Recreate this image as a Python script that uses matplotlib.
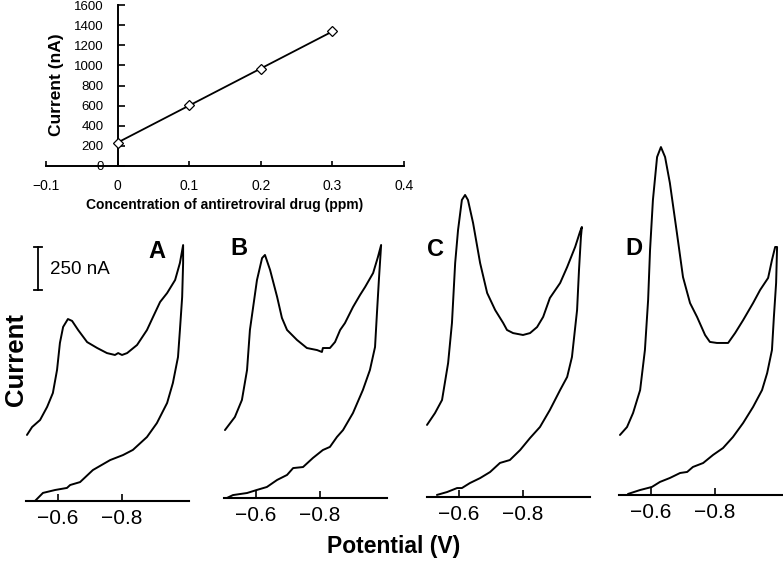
import numpy as np
import matplotlib
matplotlib.use("Agg")
import matplotlib.pyplot as plt

plt.rcParams['font.family'] = ['Liberation Sans', 'DejaVu Sans']

# calibration inset
conc = [0.0, 0.1, 0.2, 0.3]
peak_current = [230, 610, 960, 1340]
conc_ticks = [-0.1, 0, 0.1, 0.2, 0.3, 0.4]
conc_tick_labels = ["\u22120.1", "0", "0.1", "0.2", "0.3", "0.4"]
current_ticks = [0, 200, 400, 600, 800, 1000, 1200, 1400, 1600]

# voltammograms (potential in V, current in nA), forward scan then reverse scan
panel_names = ["A", "B", "C", "D"]
pot_a = [-0.528, -0.553, -0.591, -0.628, -0.638, -0.669, -0.709, -0.763, -0.803, -0.834,
         -0.878, -0.909, -0.941, -0.959, -0.975, -0.981, -0.988, -0.991, -0.991,
         -0.981, -0.966, -0.941, -0.919, -0.897, -0.878, -0.847, -0.816, -0.800, -0.788,
         -0.778, -0.753, -0.722, -0.691, -0.663, -0.644, -0.631, -0.616, -0.606, -0.597,
         -0.584, -0.566, -0.544, -0.519, -0.503]
cur_a = [0, 47, 64, 76, 93, 110, 180, 238, 267, 297, 372, 453, 570, 686, 837, 994, 1186, 1384, 1488,
         1384, 1285, 1209, 1157, 1070, 994, 907, 860, 849, 860, 849, 860, 890, 924, 994, 1047,
         1058, 1012, 919, 762, 628, 547, 471, 430, 384]
pot_b = [-0.509, -0.528, -0.572, -0.603, -0.634, -0.666, -0.697, -0.716, -0.747, -0.778,
         -0.809, -0.831, -0.853, -0.872, -0.903, -0.934, -0.956, -0.972, -0.978, -0.984, -0.991,
         -0.981, -0.966, -0.941, -0.925, -0.903, -0.878, -0.863, -0.847, -0.831, -0.809,
         -0.806, -0.791, -0.759, -0.728, -0.697, -0.681, -0.666, -0.644, -0.628, -0.619,
         -0.603, -0.581, -0.572, -0.556, -0.534, -0.503]
cur_b = [0, 17, 29, 47, 64, 105, 134, 174, 180, 233, 279, 297, 355, 395, 494, 628, 744, 878,
         1076, 1267, 1471,
         1401, 1308, 1227, 1180, 1110, 1017, 977, 907, 872, 872, 849, 860, 872, 919, 977, 1047,
         1169, 1326, 1413, 1395, 1267, 977, 744, 570, 471, 395]
pot_c = [-0.531, -0.563, -0.594, -0.609, -0.634, -0.666, -0.697, -0.728, -0.759, -0.791,
         -0.822, -0.853, -0.884, -0.916, -0.938, -0.953, -0.969, -0.975, -0.981, -0.984,
         -0.978, -0.963, -0.938, -0.916, -0.884, -0.863, -0.844, -0.822, -0.800, -0.769,
         -0.750, -0.738, -0.713, -0.688, -0.666, -0.644, -0.628, -0.619, -0.609, -0.597,
         -0.588, -0.578, -0.566, -0.547, -0.525, -0.500]
cur_c = [12, 29, 52, 52, 81, 110, 145, 198, 215, 273, 343, 407, 506, 622, 698, 814, 1087, 1320,
         1512, 1570,
         1541, 1454, 1337, 1244, 1157, 1047, 988, 953, 942, 953, 971, 1012, 1087, 1186, 1360,
         1593, 1727, 1756, 1727, 1552, 1360, 1012, 779, 564, 488, 419]
pot_d = [-0.528, -0.566, -0.591, -0.603, -0.628, -0.659, -0.691, -0.713, -0.731, -0.763,
         -0.794, -0.825, -0.856, -0.888, -0.919, -0.947, -0.963, -0.978, -0.984, -0.991, -0.994,
         -0.988, -0.978, -0.966, -0.941, -0.919, -0.888, -0.863, -0.841, -0.806, -0.784,
         -0.769, -0.744, -0.722, -0.700, -0.681, -0.659, -0.644, -0.631, -0.619, -0.606,
         -0.597, -0.591, -0.581, -0.566, -0.544, -0.525, -0.503]
cur_d = [6, 29, 41, 47, 76, 99, 128, 134, 163, 186, 233, 273, 337, 419, 512, 610, 709, 843,
         1035, 1233, 1442,
         1442, 1366, 1262, 1192, 1116, 1017, 942, 884, 884, 890, 930, 1035, 1116, 1267, 1523,
         1814, 1965, 2023, 1965, 1715, 1424, 1134, 843, 610, 477, 395, 349]
potentials = [pot_a, pot_b, pot_c, pot_d]
currents = [cur_a, cur_b, cur_c, cur_d]
scale_bar_nA = 250

W, H = 783, 561
fig = plt.figure(figsize=(W / 100, H / 100), dpi=100)


def px(x, y, w=0, h=0):
    # pixel box (left, top) -> figure fraction rect
    return [x / W, 1 - (y + h) / H, w / W, h / H]


# ---- inset calibration plot
ax = fig.add_axes(px(46, 5, 358, 161))
ax.patch.set_visible(False)
fit = np.polyfit(conc, peak_current, 1)
xx = np.array([conc[0], conc[-1]])
ax.plot(xx, np.polyval(fit, xx), color="black", lw=1.3)
ax.plot(conc, peak_current, linestyle="none", marker="D", ms=4.6, mfc="white",
        mec="black", mew=0.9, clip_on=False, zorder=3)
ax.set_xlim(-0.1, 0.4)
ax.set_ylim(0, 1600)
ax.spines["top"].set_visible(False)
ax.spines["right"].set_visible(False)
ax.spines["left"].set_position(("data", 0))
for s in ("left", "bottom"):
    ax.spines[s].set_linewidth(1.4)
ax.set_xticks(conc_ticks)
ax.set_xticklabels(conc_tick_labels)
ax.set_yticks(current_ticks)
ax.tick_params(axis="x", direction="in", length=3.5, width=1.2, labelsize=10, pad=9)
ax.tick_params(axis="y", direction="in", length=5, width=1.2, labelsize=9.5, pad=10)
fig.text(56 / W, 1 - 85 / H, "Current (nA)", rotation=90, ha="center", va="center",
         fontsize=12.5, fontweight="bold")
fig.text(225 / W, 1 - 205 / H, "Concentration of antiretroviral drug (ppm)",
         ha="center", va="center", fontsize=10, fontweight="bold")

# ---- voltammograms
lefts = [26, 224, 427, 619]
baselines = [501, 498, 497, 495]
letter_pos = [(157, 252), (239, 248), (436, 250), (634, 248)]
ppv = 320.0   # pixels per volt
ppn = 0.172   # pixels per nA
e_lo, e_hi = -0.5, -1.01
i_top = 2100

for k in range(4):
    w = (e_lo - e_hi) * ppv
    h = i_top * ppn
    a = fig.add_axes(px(lefts[k], baselines[k] - h, w, h))
    a.patch.set_visible(False)
    a.plot(potentials[k], currents[k], color="black", lw=1.4, clip_on=False,
           solid_joinstyle="round", solid_capstyle="round")
    a.set_xlim(e_lo, e_hi)
    a.set_ylim(0, i_top)
    for s in ("top", "right", "left"):
        a.spines[s].set_visible(False)
    a.spines["bottom"].set_linewidth(1.5)
    a.set_yticks([])
    a.set_xticks([-0.6, -0.8])
    a.tick_params(axis="x", direction="in", length=5, width=1.2, labelsize=15, pad=6)
    lx, ly = letter_pos[k]
    fig.text(lx / W, 1 - ly / H, panel_names[k], ha="center", va="center",
             fontsize=17, fontweight="bold")
    if k == 0:
        y0 = 1227
        a.plot([-0.5375, -0.5375], [y0, y0 + scale_bar_nA], color="black", lw=1.3, clip_on=False)
        for yy in (y0, y0 + scale_bar_nA):
            a.plot([-0.525, -0.55], [yy, yy], color="black", lw=1.3, clip_on=False)
        fig.text(50 / W, 1 - 270 / H, "%d nA" % scale_bar_nA, ha="left", va="center",
                 fontsize=13.5)

fig.text(16 / W, 1 - 360 / H, "Current", rotation=90, ha="center", va="center",
         fontsize=18.5, fontweight="bold")
fig.text(394 / W, 1 - 547 / H, "Potential (V)", ha="center", va="center",
         fontsize=16.5, fontweight="bold")

fig.savefig("out.png", dpi=100)
